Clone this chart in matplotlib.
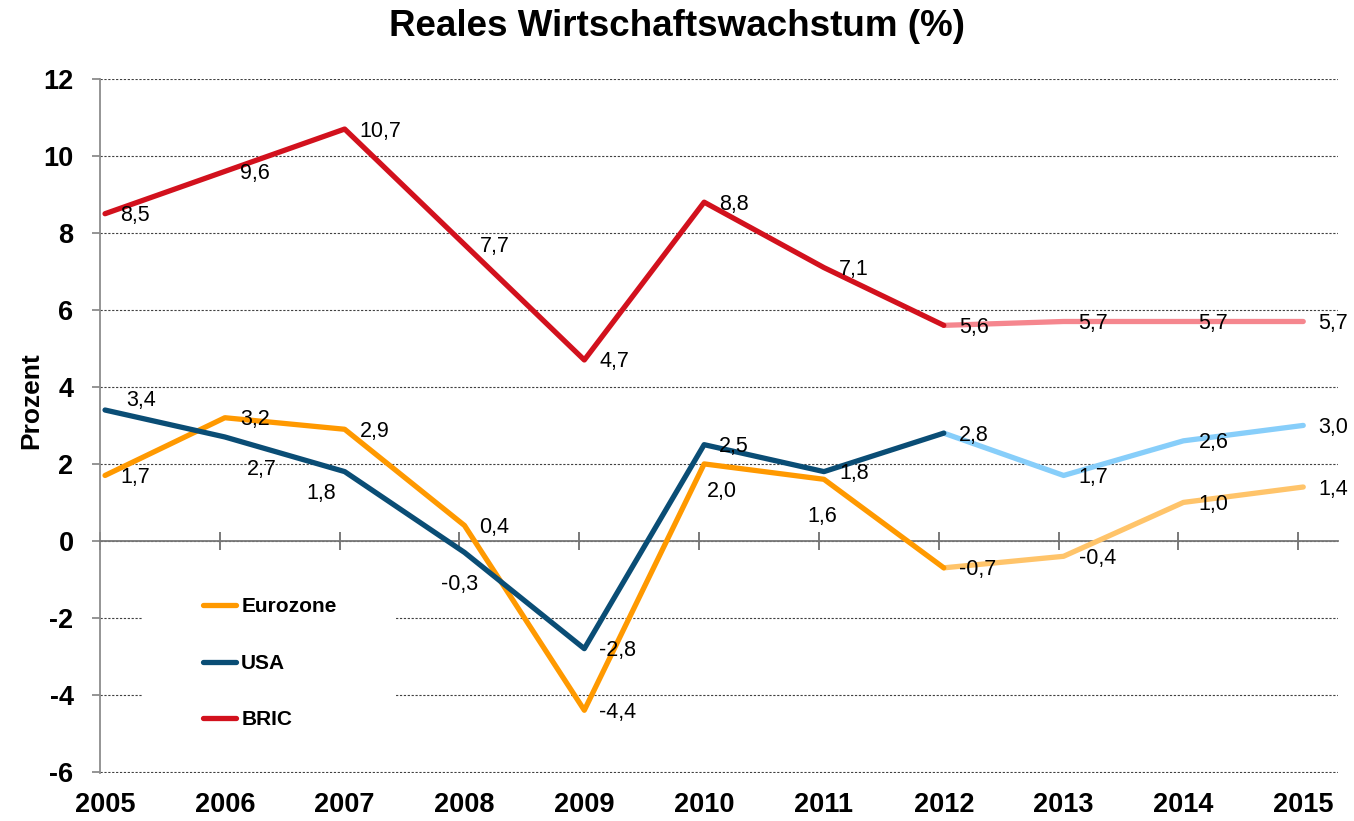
import matplotlib.pyplot as plt
from matplotlib.patches import Rectangle

plt.rcParams['font.family'] = ['Liberation Sans', 'DejaVu Sans']
plt.rcParams['axes.unicode_minus'] = False

years = [2005, 2006, 2007, 2008, 2009, 2010, 2011, 2012, 2013, 2014, 2015]
eurozone = [1.7, 3.2, 2.9, 0.4, -4.4, 2.0, 1.6, -0.7, -0.4, 1.0, 1.4]
usa = [3.4, 2.7, 1.8, -0.3, -2.8, 2.5, 1.8, 2.8, 1.7, 2.6, 3.0]
bric = [8.5, 9.6, 10.7, 7.7, 4.7, 8.8, 7.1, 5.6, 5.7, 5.7, 5.7]
names = ['Eurozone', 'USA', 'BRIC']
last_actual = 2012  # after this: forecast (lighter colour)

colors = {'Eurozone': ('#FF9900', '#FFC46A'),
          'USA': ('#0A4D75', '#87CEFA'),
          'BRIC': ('#D2111D', '#F5868E')}

# label offsets in pixels (label centre relative to point); default is to the right
label_offsets = {
    ('USA', 2005): (36, 10),
    ('USA', 2006): (37, -33),
    ('USA', 2007): (-23, -22),
    ('USA', 2008): (-5, -32),
    ('Eurozone', 2010): (18, -28),
    ('Eurozone', 2011): (-2, -37),
}

fig = plt.figure(figsize=(13.54, 8.21), dpi=100)
ax = fig.add_axes([100 / 1354, 48 / 821, 1238 / 1354, 694 / 821])

ax.set_xlim(years[0] - 0.042, years[-1] + 0.29)
ax.set_ylim(-6.03, 12)
ax.set_yticks(range(-6, 13, 2))

ax.set_axisbelow(True)
ax.yaxis.grid(True, ls=(0, (2, 1.5)), color='#404040', lw=0.8)

for s in ['top', 'right']:
    ax.spines[s].set_visible(False)
ax.spines['left'].set_color('#8c8c8c')
ax.spines['left'].set_linewidth(1.3)
ax.spines['bottom'].set_position(('data', 0))
ax.spines['bottom'].set_color('#777777')
ax.spines['bottom'].set_linewidth(1.3)
ax.set_xticks([y - 0.042 for y in years])
ax.tick_params(axis='x', direction='inout', length=13, width=1.1, color='#555555',
               labelbottom=False)
ax.tick_params(axis='y', direction='out', length=6, width=1.1, color='#777777',
               pad=13, labelsize=19.5)
for lbl in ax.get_yticklabels():
    lbl.set_fontweight('bold')

# year labels at the bottom
sec = ax.secondary_xaxis('bottom')
sec.set_xticks(years)
sec.set_xticklabels([str(y) for y in years], fontsize=19.5, fontweight='bold')
sec.tick_params(length=0, pad=14)
sec.spines['bottom'].set_visible(False)

ax.set_ylabel('Prozent', fontsize=19, fontweight='bold')
ax.yaxis.set_label_coords(-0.046, 0.537)

series = {'Eurozone': eurozone, 'USA': usa, 'BRIC': bric}
split = years.index(last_actual)
handles = []
for name in names:
    vals = series[name]
    dark, light = colors[name]
    h, = ax.plot(years[:split + 1], vals[:split + 1], color=dark, lw=3.8,
                 solid_capstyle='round', zorder=4)
    ax.plot(years[split:], vals[split:], color=light, lw=3.8,
            solid_capstyle='round', zorder=3)
    handles.append(h)
    for x, v in zip(years, vals):
        txt = f'{v:.1f}'.replace('.', ',')
        if (name, x) in label_offsets:
            dx, dy = label_offsets[(name, x)]
            ax.annotate(txt, (x, v), xytext=(dx, dy), textcoords='offset pixels',
                        ha='center', va='center', fontsize=15.5, zorder=5)
        else:
            ax.annotate(txt, (x, v), xytext=(15, -2), textcoords='offset pixels',
                        ha='left', va='center', fontsize=15.5, zorder=5)

# white box behind the legend hides the gridlines
ax.add_patch(Rectangle((0.035, 0.03), 0.204, 0.25, transform=ax.transAxes,
                       facecolor='white', edgecolor='none', zorder=2))
leg = ax.legend(handles, names, loc='upper left', bbox_to_anchor=(0.0745, 0.268),
                frameon=False, borderpad=0, handlelength=1.6, handletextpad=0.25,
                labelspacing=1.8, prop={'size': 15, 'weight': 'bold'})
leg.set_zorder(6)

fig.text(0.5, 1 - 26 / 821, 'Reales Wirtschaftswachstum (%)', ha='center', va='center',
         fontsize=26.5, fontweight='bold')

fig.savefig('out.png', dpi=100)
